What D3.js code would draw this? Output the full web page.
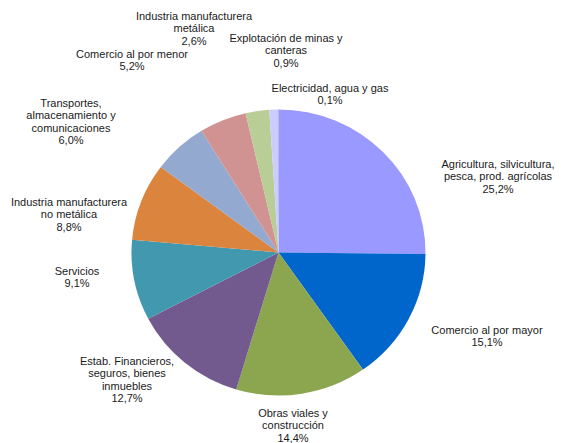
<!DOCTYPE html>
<html>
<head>
<meta charset="utf-8">
<script src="https://cdn.jsdelivr.net/npm/d3@7"></script>
<style>
  body { margin: 0; background: #fff; }
  svg { display: block; }
  .lbl { font-family: "Liberation Sans", Arial, sans-serif; font-size: 11px; fill: #1a1a1a; }
</style>
</head>
<body>
<svg id="chart" width="561" height="443"></svg>
<script>
// sectores, en orden de las manecillas desde arriba
var sectores = [
  ["Agricultura, silvicultura,", "pesca, prod. agrícolas"],
  ["Comercio al por mayor"],
  ["Obras viales y", "construcción"],
  ["Estab. Financieros,", "seguros, bienes", "inmuebles"],
  ["Servicios"],
  ["Industria manufacturera", "no metálica"],
  ["Transportes,", "almacenamiento y", "comunicaciones"],
  ["Comercio al por menor"],
  ["Industria manufacturera", "metálica"],
  ["Explotación de minas y", "canteras"],
  ["Electricidad, agua y gas"]
];
var porcentajes = [25.2, 15.1, 14.4, 12.7, 9.1, 8.8, 6.0, 5.2, 2.6, 0.9, 0.1];
var colores = ["#9999ff", "#0066cc", "#8ca650", "#725a8e", "#4298af", "#db843d",
               "#93a9cf", "#d19392", "#b9cd96", "#ccccff", "#a6a6d9"];

// posicion de la primera linea de cada etiqueta
var labelPos = [[498, 164], [487, 330], [293, 413], [127, 361], [77, 271], [69, 202],
                [71, 103], [132, 54], [194, 16], [286, 38], [330, 88]];

var svg = d3.select("#chart");
var cx = 278.5, cy = 252.5, rx = 147, ry = 143;
var lineHeight = 12.3;

var pie = d3.pie().sort(null).value(function(d) { return d; });
var arcs = pie(porcentajes);
var arc = d3.arc().innerRadius(0).outerRadius(rx);

var g = svg.append("g")
    .attr("transform", "translate(" + cx + "," + cy + ") scale(1," + (ry / rx) + ")");

g.selectAll("path")
    .data(arcs)
    .enter()
    .append("path")
    .attr("d", arc)
    .attr("fill", function(d, i) { return colores[i]; });

var fmt = function(v) { return v.toFixed(1).replace(".", ",") + "%"; };

var labels = svg.selectAll(".lbl")
    .data(sectores)
    .enter()
    .append("text")
    .attr("class", "lbl")
    .attr("text-anchor", "middle")
    .attr("dominant-baseline", "central");

labels.each(function(lines, i) {
    var t = d3.select(this);
    var all = lines.concat([fmt(porcentajes[i])]);
    all.forEach(function(s, j) {
        t.append("tspan")
            .attr("x", labelPos[i][0])
            .attr("y", labelPos[i][1] + j * lineHeight)
            .text(s);
    });
});
</script>
</body>
</html>
